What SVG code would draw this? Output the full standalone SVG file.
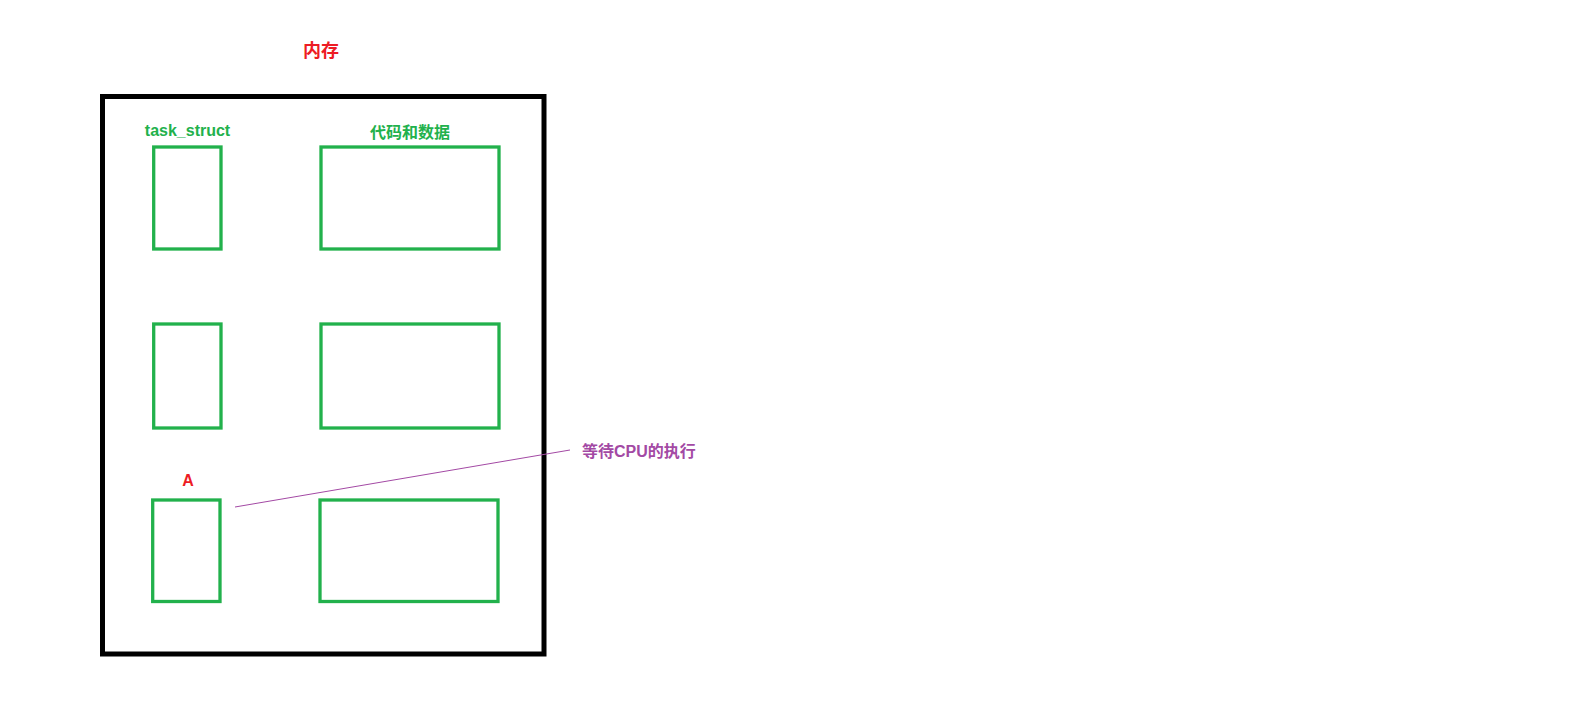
<svg xmlns="http://www.w3.org/2000/svg" width="1594" height="725" viewBox="0 0 1594 725">
<style>
text{font-family:"Liberation Sans","Noto Sans CJK SC",sans-serif;font-weight:bold}
.g{fill:none;stroke:#22B14C;stroke-width:3.3}
.gt{fill:#22B14C;font-size:16px;text-anchor:middle}
.rt{fill:#ED1C24;text-anchor:middle}
</style>
<rect width="1594" height="725" fill="#fff"/>
<g id="memory">
<text class="rt" x="321" y="57" font-size="18">内存</text>
<rect x="102.5" y="96.5" width="441.5" height="557.5" fill="none" stroke="#000" stroke-width="5"/>
</g>
<g id="task1"><text class="gt" x="187.5" y="136">task_struct</text><rect class="g" x="153.7" y="147" width="67.3" height="102"/></g>
<g id="code1"><text class="gt" x="410" y="138">代码和数据</text><rect class="g" x="321" y="147" width="178" height="102"/></g>
<g id="task2"><rect class="g" x="153.7" y="324" width="67.3" height="104"/></g>
<g id="code2"><rect class="g" x="321" y="324" width="178" height="104"/></g>
<g id="task3"><text class="rt" x="188" y="486" font-size="16">A</text><rect class="g" x="152.7" y="500" width="67.3" height="101.5"/></g>
<g id="code3"><rect class="g" x="320" y="500" width="178" height="101.5"/></g>
<g id="connectors">
<line x1="235" y1="507" x2="570" y2="450" stroke="#A349A4" stroke-width="1"/>
</g>
<g id="label"><text x="582" y="457" font-size="16" fill="#A349A4">等待CPU的执行</text></g>
</svg>
